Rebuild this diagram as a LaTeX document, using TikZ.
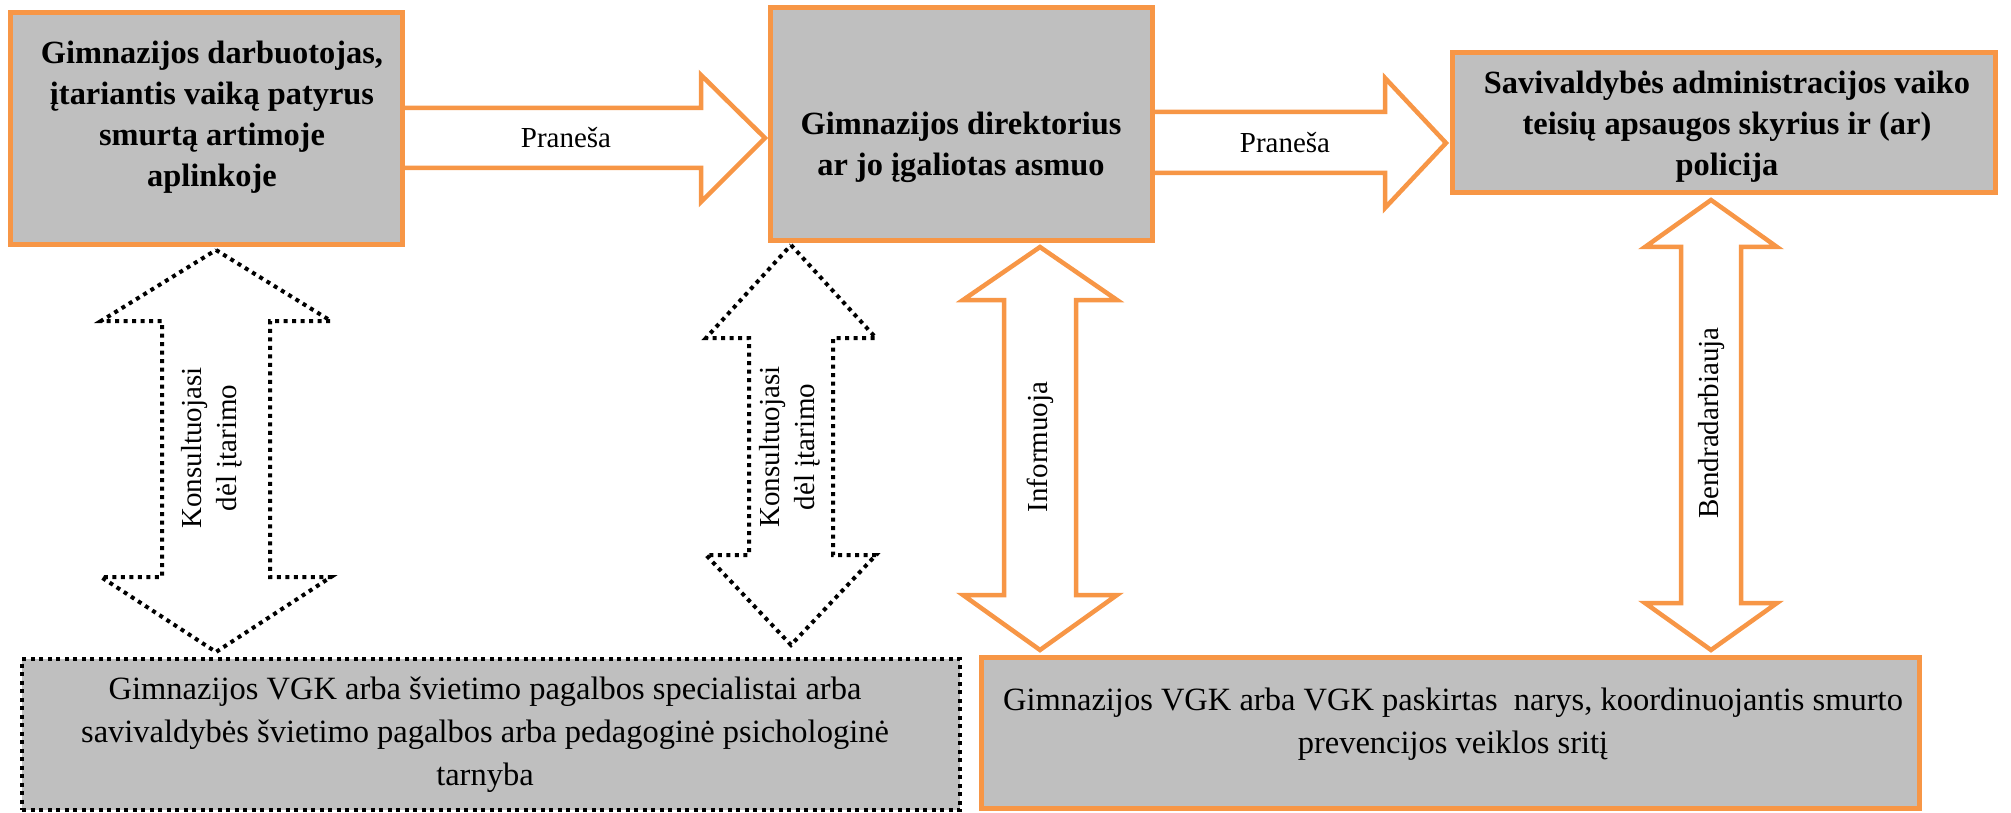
\documentclass[tikz,border=0pt]{standalone}
\usepackage{fontspec}
\setmainfont{Liberation Serif}
\usepackage{tikz}
\usetikzlibrary{positioning}
\definecolor{orng}{HTML}{F79646}
\definecolor{grey}{HTML}{BFBFBF}

\begin{document}
\begin{tikzpicture}[x=1pt, y=-1pt]
        \tikzstyle{box}=[draw=orng, fill=grey, line width=5pt, inner sep=0pt]
        \tikzstyle{dotbox}=[draw=black, fill=grey, line width=4pt, dash pattern=on 4pt off 4.5pt, inner sep=0pt]
        \tikzstyle{bigarrow}=[draw=orng, fill=white, line width=4.5pt]
        \tikzstyle{dotarrow}=[draw=black, fill=white, line width=4pt, dash pattern=on 4pt off 4.5pt]
        \tikzstyle{hd}=[font=\fontsize{32.4}{41}\selectfont\bfseries, align=center]
        \tikzstyle{txt}=[font=\fontsize{32.5}{43}\selectfont, align=center]
        \tikzstyle{lbl}=[font=\fontsize{29}{34.5}\selectfont, align=center]

        \useasboundingbox (0,0) rectangle (2011,813);

        \node[box, minimum width=392pt, minimum height=232pt] (0) at (206.5,128.5) {};
        \node[box, minimum width=382pt, minimum height=233pt] (1) at (961.5,124) {};
        \node[box, minimum width=543pt, minimum height=140pt] (2) at (1724,122.5) {};
        \node[dotbox, minimum width=938pt, minimum height=151pt] (3) at (491,734.5) {};
        \node[box, minimum width=938pt, minimum height=151pt] (4) at (1450.5,733) {};

        \node[hd] (0t) at (212,117.5) {Gimnazijos darbuotojas,\\įtariantis vaiką patyrus\\smurtą artimoje\\aplinkoje};
        \node[hd] (1t) at (961,147.5) {Gimnazijos direktorius\\ar jo įgaliotas asmuo};
        \node[hd] (2t) at (1727,127) {Savivaldybės administracijos vaiko\\teisių apsaugos skyrius ir (ar)\\policija};
        \node[txt] (3t) at (485,735) {Gimnazijos VGK arba švietimo pagalbos specialistai arba\\savivaldybės švietimo pagalbos arba pedagoginė psichologinė\\tarnyba};
        \node[txt] (4t) at (1453,724.5) {Gimnazijos VGK arba VGK paskirtas~ narys, koordinuojantis smurto\\prevencijos veiklos sritį};

        \draw[bigarrow] (0.east |- 0,108) -- (701,108) -- (701,75) -- (765,138) -- (701,202) -- (701,168) -- (0.east |- 0,168);
        \draw[bigarrow] (1.east |- 0,112) -- (1385,112) -- (1385,78) -- (1446,143) -- (1385,208) -- (1385,173) -- (1.east |- 0,173);

        \draw[dotarrow] (216,250) -- (331,321) -- (270,321) -- (270,577) -- (331,577) -- (216,652) -- (101,577) -- (162,577) -- (162,321) -- (101,321) -- cycle;
        \draw[dotarrow] (791,245) -- (876,338) -- (833,338) -- (833,555) -- (876,555) -- (791,645) -- (706,555) -- (749,555) -- (749,338) -- (706,338) -- cycle;
        \draw[bigarrow] (1040,247) -- (1117,300) -- (1076,300) -- (1076,595) -- (1117,595) -- (1040,650) -- (963,595) -- (1004,595) -- (1004,300) -- (963,300) -- cycle;
        \draw[bigarrow] (1711,200) -- (1777,247) -- (1741,247) -- (1741,603) -- (1777,603) -- (1711,650) -- (1645,603) -- (1681,603) -- (1681,247) -- (1645,247) -- cycle;

        \node[lbl] (p1) at (566,138) {Praneša};
        \node[lbl] (p2) at (1285,143) {Praneša};
        \node[lbl, rotate=90] (k1) at (212,448) {Konsultuojasi\\dėl įtarimo};
        \node[lbl, rotate=90] (k2) at (790,447) {Konsultuojasi\\dėl įtarimo};
        \node[lbl, rotate=90] (inf) at (1040,447) {Informuoja};
        \node[lbl, rotate=90] (bnd) at (1712,423) {Bendradarbiauja};

    \end{tikzpicture}
\end{document}
